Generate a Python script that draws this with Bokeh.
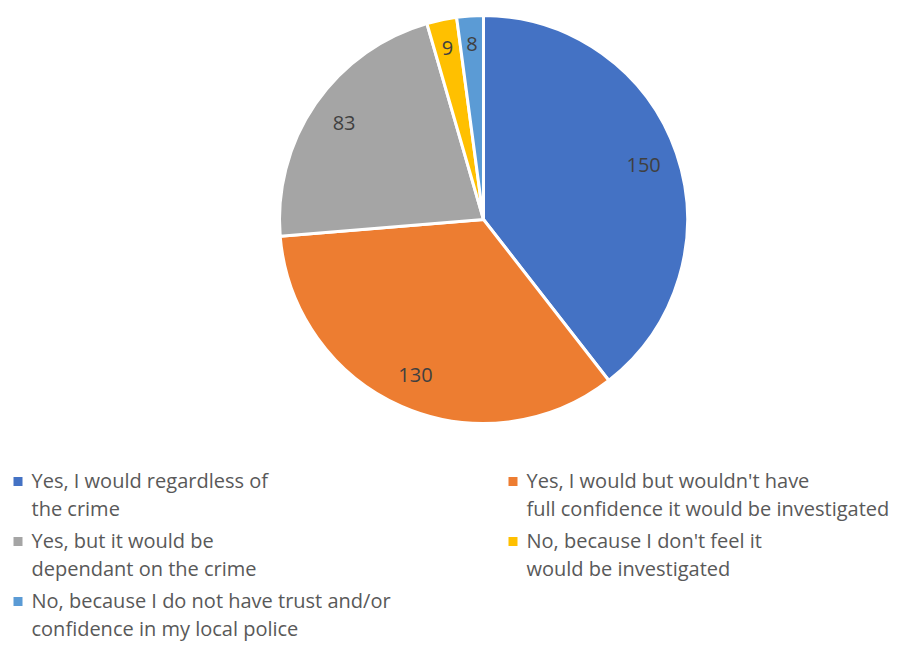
import math
from bokeh.plotting import figure
from bokeh.models import Range1d, ColumnDataSource
from bokeh.core.properties import value
from bokeh.embed import file_html
from bokeh.resources import INLINE

categories = [
    "Yes, I would regardless of\nthe crime",
    "Yes, I would but wouldn't have\nfull confidence it would be investigated",
    "Yes, but it would be\ndependant on the crime",
    "No, because I don't feel it\nwould be investigated",
    "No, because I do not have trust and/or\nconfidence in my local police",
]
counts = [150, 130, 83, 9, 8]
colors = ["#4472C4", "#ED7D31", "#A5A5A5", "#FFC000", "#5B9BD5"]

W, H = 894, 641
def py(y):  # picture pixel y (from top) -> data y
    return H - y

p = figure(width=W, height=H, output_backend="svg", toolbar_location=None,
           x_range=Range1d(0, W), y_range=Range1d(0, H),
           x_axis_type=None, y_axis_type=None, min_border=0)
p.outline_line_color = None
p.grid.visible = False
p.background_fill_color = "white"

cx, cy, R = 483, py(219), 204
total = sum(counts)
starts, ends, lx, ly = [], [], [], []
cum = 0
for c in counts:
    a0 = math.pi / 2 - 2 * math.pi * cum / total
    mid = cum + c / 2
    cum += c
    a1 = math.pi / 2 - 2 * math.pi * cum / total
    starts.append(a0)
    ends.append(a1)
    am = math.pi / 2 - 2 * math.pi * mid / total
    rl = 0.83 * R if c > 20 else 0.86 * R
    lx.append(cx + rl * math.cos(am))
    ly.append(cy + rl * math.sin(am))

src = ColumnDataSource(dict(start=starts, end=ends, color=colors,
                            lx=lx, ly=ly, lab=[str(c) for c in counts]))
p.wedge(x=cx, y=cy, radius=R, start_angle="start", end_angle="end",
        direction="clock", fill_color="color", line_color="white",
        line_width=3, source=src)
p.text(x="lx", y="ly", text="lab", source=src, text_align="center",
       text_baseline="middle", text_font=value("Open Sans"),
       text_font_size="20px", text_color="#404040")

# legend (manual, multi-line entries in two columns)
col_x = [13, 508]
row_y = [480, 540, 600]
line_gap = 28
mx, my, mc, tx, ty, tt = [], [], [], [], [], []
for i, (cat, col) in enumerate(zip(categories, colors)):
    ccol = i % 2
    row = i // 2
    x0 = col_x[ccol]
    y0 = row_y[row]
    mx.append(x0 + 4.5)
    my.append(py(y0 + 1))
    mc.append(col)
    for j, line in enumerate(cat.split("\n")):
        tx.append(x0 + 18)
        ty.append(py(y0 + line_gap * j))
        tt.append(line)

p.rect(x=mx, y=my, width=9, height=9, fill_color=mc, line_color=None)
p.text(x=tx, y=ty, text=tt, text_align="left", text_baseline="middle",
       text_font=value("Open Sans"), text_font_size="20px", text_color="#595959")

open("out.html", "w").write(file_html(p, INLINE))
